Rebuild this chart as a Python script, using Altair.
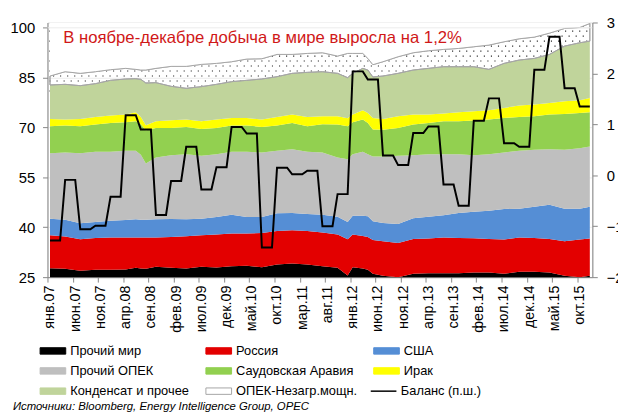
import json
import altair as alt
import pandas as pd

# ---------------- data ----------------
series_names = ["Прочий мир", "Россия", "США", "Прочий ОПЕК", "Саудовская Аравия",
                "Ирак", "Конденсат и прочее", "ОПЕК-Незагр.мощн."]

# month index (0 = янв.07)
month_idx = [0, 3, 6, 9, 12, 15, 17, 18, 19, 21, 24, 27, 30, 33, 36, 39, 42, 45, 48, 51, 54, 57,
             59, 60, 62, 63, 64, 66, 69, 72, 75, 78, 81, 84, 87, 90, 93, 96, 99, 102, 105, 107]

other_world = [27.7, 27.5, 26.9, 27.2, 27.2, 27.3, 27.8, 27.6, 27.5, 28.1, 27.8, 27.6, 28.1, 27.9,
               28.3, 28.4, 28.0, 28.8, 29.1, 28.8, 28.3, 27.8, 25.5, 28.0, 27.6, 27.2, 26.0, 25.4,
               25.0, 26.0, 26.2, 26.2, 26.2, 26.4, 26.4, 26.0, 26.6, 26.6, 26.4, 25.4, 25.0, 25.4]
russia = [9.9, 9.7, 9.5, 9.6, 9.7, 9.6, 9.1, 9.3, 9.4, 8.8, 9.3, 9.7, 9.5, 9.9, 9.8, 9.7, 10.3,
          10.1, 10.0, 10.1, 10.1, 10.0, 10.9, 9.8, 9.8, 9.9, 10.2, 10.4, 10.3, 10.5, 10.4, 10.7,
          10.6, 10.3, 10.1, 10.3, 10.3, 10.2, 10.1, 10.4, 11.3, 11.2]
usa = [5.0, 5.1, 4.8, 4.8, 5.1, 5.3, 5.5, 5.4, 5.4, 5.5, 5.4, 5.1, 5.0, 5.3, 5.7, 5.0, 4.8, 5.3,
       5.2, 5.1, 5.4, 5.4, 5.2, 5.7, 6.1, 6.2, 5.6, 5.5, 5.7, 6.2, 6.6, 6.7, 7.5, 8.0, 8.5, 9.2,
       8.7, 9.4, 10.3, 9.8, 9.3, 9.6]
other_opec = [19.7, 20.2, 21.1, 21.1, 20.7, 20.8, 20.6, 19.5, 16.9, 18.6, 19.2, 19.6, 18.9, 18.9,
              18.9, 19.6, 19.4, 18.8, 19.2, 18.7, 18.7, 17.8, 18.9, 18.5, 19.2, 18.7, 19.5, 20.0,
              20.5, 19.0, 18.8, 18.4, 17.7, 17.0, 17.0, 17.0, 17.4, 17.1, 16.7, 17.7, 18.2, 18.1]
saudi = [8.1, 8.1, 8.1, 8.2, 8.7, 8.6, 8.9, 9.2, 10.0, 8.9, 8.2, 8.2, 8.1, 7.9, 7.9, 7.9, 7.7,
         7.6, 7.9, 7.7, 8.5, 9.9, 9.9, 9.6, 9.7, 9.4, 8.1, 8.0, 8.4, 9.2, 9.4, 9.9, 9.9, 10.4,
         10.4, 10.4, 10.2, 10.1, 10.4, 10.8, 10.6, 10.3]
iraq = [2.2, 1.8, 2.2, 2.3, 2.2, 2.3, 2.7, 2.2, 1.5, 2.0, 2.3, 2.2, 2.3, 2.5, 2.3, 2.3, 2.2, 2.6,
        2.5, 2.8, 2.4, 2.5, 2.4, 2.3, 2.8, 3.0, 3.5, 3.3, 3.5, 3.0, 2.5, 2.3, 2.7, 2.8, 2.8, 3.0,
        3.4, 3.5, 3.5, 3.8, 3.8, 4.3]
condensate = [10.2, 10.6, 10.0, 10.0, 10.6, 10.7, 10.1, 11.3, 12.7, 11.6, 10.2, 9.4, 10.4, 10.6,
              10.9, 11.3, 12.2, 12.1, 12.4, 13.4, 13.4, 12.9, 12.2, 12.4, 12.6, 12.9, 12.3, 12.9,
              12.9, 13.4, 13.9, 14.1, 13.7, 13.4, 12.3, 13.4, 13.7, 13.9, 14.6, 16.6, 17.3, 17.1]
spare = [2.7, 3.8, 3.7, 3.6, 3.2, 3.2, 2.8, 2.8, 3.9, 4.3, 6.0, 6.6, 6.7, 6.3, 6.0, 6.4, 6.1,
         6.7, 5.7, 5.7, 5.7, 5.2, 7.3, 6.0, 4.5, 3.5, 3.7, 4.3, 5.0, 5.2, 5.3, 5.2, 5.5, 6.0, 7.3,
         6.5, 6.4, 6.4, 6.4, 5.3, 4.6, 5.3]

# balance, right axis (monthly, Jan 2007 .. Dec 2015)
balance = [
    -1.28, -1.28, -1.28, -0.09, -0.09, -0.09, -1.06, -1.06, -1.06, -0.99, -0.99, -0.99,
    -0.42, -0.42, -0.42, 1.18, 1.18, 1.18, 0.90, 0.90, 0.90, -0.78, -0.78, -0.78,
    -0.11, -0.11, -0.11, 0.56, 0.56, 0.56, -0.28, -0.28, -0.28, 0.16, 0.16, 0.16,
    0.95, 0.95, 0.95, 0.82, 0.82, 0.82, -1.42, -1.42, -1.42, 0.15, 0.15, 0.15,
    0.02, 0.02, 0.02, 0.09, 0.09, 0.09, -1.00, -1.00, -1.00, -0.37, -0.37, -0.37,
    2.04, 2.04, 2.04, 1.88, 1.88, 1.88, 0.39, 0.39, 0.39, 0.20, 0.20, 0.20,
    0.83, 0.83, 0.83, 0.96, 0.96, 0.96, -0.18, -0.18, -0.18, -0.60, -0.60, -0.60,
    1.07, 1.07, 1.07, 1.51, 1.51, 1.51, 0.63, 0.63, 0.63, 0.56, 0.56, 0.56,
    2.07, 2.07, 2.07, 2.72, 2.72, 2.72, 1.71, 1.71, 1.71, 1.35, 1.35, 1.35,
]
balance_name = "Баланс (п.ш.)"

tick_labels = ["янв.07", "июн.07", "ноя.07", "апр.08", "сен.08", "фев.09", "июл.09", "дек.09",
               "май.10", "окт.10", "мар.11", "авг.11", "янв.12", "июн.12", "ноя.12", "апр.13",
               "сен.13", "фев.14", "июл.14", "дек.14", "май.15", "окт.15"]
left_ticks = [25, 40, 55, 70, 85, 100]
right_ticks = [-2, -1, 0, 1, 2, 3]

title_text = "В ноябре-декабре добыча в мире выросла на 1,2%"
source_text = "Источники: Bloomberg, Energy Intelligence Group, OPEC"

# ---------------- styling ----------------
fill_colors = ["#000000", "#e30000", "#558ed5", "#bfbfbf", "#92d050", "#ffff00", "#c0d49b",
               "rgba(255,255,255,0)"]
stroke_colors = ["#000000", "#e30000", "#558ed5", "#bfbfbf", "#92d050", "#ffff00", "#c0d49b",
                 "#a6a6a6"]
FONT = "Liberation Sans"
AX = "#868686"
W, H = 552, 258
Y_MIN, Y_MAX = 25, 101.6
SPARE = series_names[-1]

# ---------------- tables (band bottoms/tops built from the series) ----------------
all_series = [other_world, russia, usa, other_opec, saudi, iraq, condensate, spare]
rows = []
for j, i in enumerate(month_idx):
    base = 0.0
    for k, (name, vals) in enumerate(zip(series_names, all_series)):
        rows.append({"idx": i, "series": name, "value": vals[j], "ord": k,
                     "y0": round(base, 3), "y1": round(base + vals[j], 3)})
        base += vals[j]
df_area = pd.DataFrame(rows)
df_bal = pd.DataFrame({"idx": list(range(len(balance))), "balance": balance, "name": balance_name})

x_scale = alt.Scale(domain=[-0.5, 107.5], nice=False, zero=False)
y_scale = alt.Scale(domain=[Y_MIN, Y_MAX], nice=False, zero=False)
label_expr = json.dumps(tick_labels, ensure_ascii=False) + "[round(datum.value / 5)]"
x_axis = alt.Axis(values=list(range(0, 106, 5)), labelExpr=label_expr, labelAngle=270,
                  tickSize=5, tickOffset=-2.556, labelOffset=2.556, labelPadding=3,
                  grid=False, domainColor=AX, tickColor=AX, labelFont=FONT,
                  labelFontSize=14.5, labelColor="#000000", title=None)
X = alt.X("idx:Q", scale=x_scale, axis=x_axis)

legend_common = dict(
    title=None, orient="none", padding=0,
    labelFont=FONT, labelFontSize=13, labelColor="#000000",
    symbolSize=100, labelLimit=300,
)
fill_legend = alt.Legend(
    legendX=-1, legendY=326, columns=3, columnPadding=14, rowPadding=6.5,
    symbolType="M-2.6,-0.65H2.6V0.65H-2.6Z", symbolStrokeWidth=1, labelOffset=11,
    direction="horizontal", **legend_common,
)
line_legend = alt.Legend(
    legendX=334, legendY=367,
    symbolType="M-2.6,0H2.6", symbolStrokeWidth=1.5, labelOffset=11,
    **legend_common,
)

# 1) dot texture (covered everywhere except inside the spare-capacity band)
dots = alt.Chart(alt.sequence(0, 107.01, 1.4, as_="dx")).transform_calculate(
    k="sequence(0, 16)"
).transform_flatten(["k"]).transform_calculate(
    dy="81 + datum.k * 1.5", dxx="datum.dx + (datum.k % 2) * 0.7"
).transform_filter("datum.dxx <= 107 && datum.dy <= 101.6").mark_square(
    size=1.3, color="#000000", opacity=0.85, clip=True
).encode(x=alt.X("dxx:Q", scale=x_scale, axis=x_axis),
         y=alt.Y("dy:Q", scale=y_scale, axis=None))

# 2) bands
areas = alt.Chart(df_area).mark_area(clip=True, interpolate="linear").encode(
    x=X,
    y=alt.Y("y1:Q", stack=False, title=None, scale=y_scale,
            axis=alt.Axis(values=left_ticks, tickSize=5, labelPadding=8, grid=True,
                          gridColor="#ececec", domainColor=AX, tickColor=AX, labelFont=FONT,
                          labelFontSize=15, labelColor="#000000")),
    y2="y0:Q",
    fill=alt.Fill("series:N", scale=alt.Scale(domain=series_names, range=fill_colors),
                  legend=fill_legend),
    stroke=alt.Stroke("series:N", scale=alt.Scale(domain=series_names, range=stroke_colors),
                      legend=fill_legend),
    strokeWidth=alt.condition(alt.datum.series == SPARE, alt.value(1), alt.value(0)),
    order=alt.Order("ord:Q"),
)

# 3) white above the top band, then its outline and the 100 grid line
top_band = alt.Chart(df_area).transform_filter(alt.datum.series == SPARE)
mask = top_band.mark_area(clip=True, interpolate="linear", color="#ffffff").encode(
    x=X, y=alt.Y("y1:Q", stack=False, scale=y_scale, axis=None), y2=alt.datum(Y_MAX))
outline = top_band.mark_area(clip=True, interpolate="linear", fillOpacity=0,
                             stroke="#a6a6a6", strokeWidth=1).encode(
    x=X, y=alt.Y("y1:Q", stack=False, scale=y_scale, axis=None), y2="y0:Q")
grid100 = alt.Chart(pd.DataFrame({"g": [100]})).mark_rule(color="#ececec", strokeWidth=1).encode(
    y=alt.Y("g:Q", scale=y_scale, axis=None))

line = alt.Chart(df_bal).mark_line(strokeWidth=2, clip=True, interpolate="linear").encode(
    x=X,
    y=alt.Y("balance:Q", title=None,
            scale=alt.Scale(domain=[-2, 3], nice=False, zero=False),
            axis=alt.Axis(orient="right", values=right_ticks, tickSize=5, labelPadding=9,
                          grid=False, domainColor=AX, tickColor=AX, labelFont=FONT,
                          labelFontSize=15, labelColor="#000000")),
    stroke=alt.Stroke("name:N", scale=alt.Scale(domain=[balance_name], range=["#000000"]),
                      legend=line_legend),
)

title_layer = alt.Chart(pd.DataFrame({"t": [title_text]})).mark_text(
    align="left", baseline="alphabetic", font=FONT, fontSize=16.9, color="#d01818"
).encode(x=alt.value(16), y=alt.value(20.5), text="t:N")

source_layer = alt.Chart(pd.DataFrame({"t": [source_text]})).mark_text(
    align="left", baseline="alphabetic", font=FONT, fontSize=11.5, fontStyle="italic",
    color="#000000"
).encode(x=alt.value(-35), y=alt.value(393), text="t:N")

chart = alt.layer(
    dots, areas, mask, outline, grid100, title_layer, line, source_layer
).resolve_scale(
    y="independent", stroke="independent", fill="independent"
).resolve_legend(stroke="independent", fill="independent").properties(
    width=W, height=H,
    autosize=alt.AutoSizeParams(type="none"),
    padding={"left": 40, "top": 12, "right": 26, "bottom": 139},
).configure_view(stroke="transparent").configure(background="#ffffff")

chart.save("out.html", embed_options={"renderer": "svg", "actions": False})
